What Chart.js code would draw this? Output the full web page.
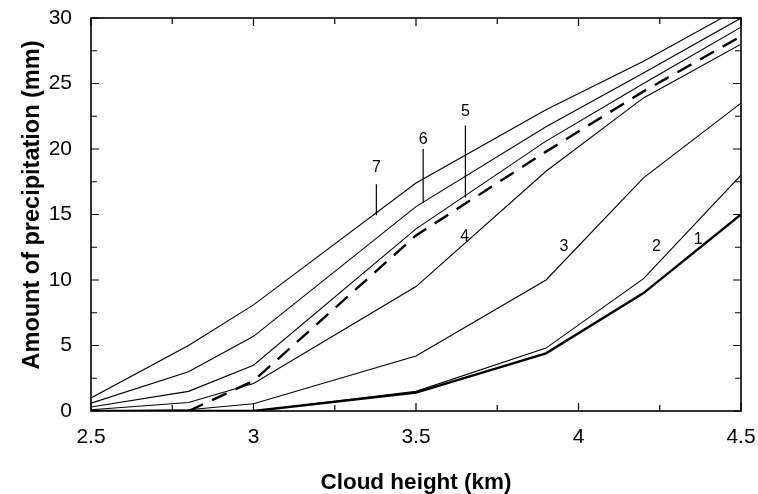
<!DOCTYPE html>
<html>
<head>
<meta charset="utf-8">
<script src="https://cdn.jsdelivr.net/npm/chart.js@4.4.1/dist/chart.umd.min.js"></script>
<style>
    html, body { margin: 0; padding: 0; background: #fff; }
</style>
</head>
<body>
<canvas id="precipChart" width="758" height="494"></canvas>
<script>
// Cloud heights (km) at which the curves were sampled
const heights = [2.5, 2.8, 3.0, 3.5, 3.9, 4.2, 4.5];

// Amount of precipitation (mm), curves 1-7 plus the dashed one
const curve1 = [0, 0, 0, 1.4, 4.4, 9.0, 15.0];
const curve2 = [0, 0, 0, 1.5, 4.8, 10.1, 18.0];
const curve3 = [0, 0.1, 0.55, 4.2, 10.0, 17.8, 23.5];
const curve4 = [0.1, 0.65, 2.1, 9.5, 18.3, 23.9, 28.0];
const curve5 = [0.3, 1.5, 3.5, 13.9, 20.6, 25.0, 29.3];
const curve6 = [0.6, 3.0, 5.7, 15.6, 21.7, 25.8, 30.0];
const curve7 = [1.0, 5.0, 8.1, 17.4, 23.0, 26.7, 30.8];
const dashedCurve = [null, 0, 2.3, 13.4, 19.8, 24.4, 28.6];

// Axis ticks
const xMajorTicks = [2.5, 3, 3.5, 4, 4.5];
const xMinorTicks = [2.75, 3.25, 3.75, 4.25];
const yMajorTicks = [0, 5, 10, 15, 20, 25, 30];
const yMinorTicks = [2.5, 7.5, 12.5, 17.5, 22.5, 27.5];

// Curve numbers and their leader lines, in data units
const curveNames = ['7', '6', '5', '4', '3', '2', '1'];
const nameX = [3.378, 3.522, 3.652, 3.65, 3.955, 4.24, 4.368];
const nameY = [18.55, 20.7, 22.85, 13.3, 12.55, 12.55, 13.05];
const leaderTop = [17.3, 20.0, 21.8, null, null, null, null];
const leaderBottom = [14.95, 15.9, 16.3, null, null, null, null];

const FONT = '"Liberation Sans", Arial, Helvetica, sans-serif';
const Y_TITLE = 'Amount of precipitation (mm)';

function toPoints(values) {
    return heights.map((h, i) => ({ x: h, y: values[i] }));
}

function thinLine(values) {
    return {
        data: toPoints(values),
        borderColor: '#000',
        borderWidth: 1.1,
        pointRadius: 0,
        tension: 0,
        fill: false
    };
}

// Frame with inward ticks, the curve numbers and the y title
const frameAndNames = {
    id: 'frameAndNames',
    afterDatasetsDraw(chart) {
        const { ctx, chartArea: a, scales: { x, y } } = chart;
        ctx.save();
        ctx.strokeStyle = '#000';

        ctx.lineWidth = 1.2;
        ctx.beginPath();
        const xTick = (v, len) => {
            const px = x.getPixelForValue(v);
            ctx.moveTo(px, a.bottom); ctx.lineTo(px, a.bottom - len);
            ctx.moveTo(px, a.top); ctx.lineTo(px, a.top + len);
        };
        const yTick = (v, len) => {
            const py = y.getPixelForValue(v);
            ctx.moveTo(a.left, py); ctx.lineTo(a.left + len, py);
            ctx.moveTo(a.right, py); ctx.lineTo(a.right - len, py);
        };
        xMajorTicks.forEach(v => xTick(v, 8));
        xMinorTicks.forEach(v => xTick(v, 6));
        yMajorTicks.forEach(v => yTick(v, 8));
        yMinorTicks.forEach(v => yTick(v, 6));
        ctx.stroke();

        ctx.lineWidth = 1.6;
        ctx.strokeRect(a.left, a.top, a.right - a.left, a.bottom - a.top);

        // curve numbers
        ctx.fillStyle = '#000';
        ctx.font = '16px ' + FONT;
        ctx.textAlign = 'center';
        ctx.textBaseline = 'middle';
        ctx.lineWidth = 1.2;
        curveNames.forEach((name, i) => {
            const px = x.getPixelForValue(nameX[i]);
            ctx.fillText(name, px, y.getPixelForValue(nameY[i]));
            if (leaderTop[i] !== null) {
                ctx.beginPath();
                ctx.moveTo(px, y.getPixelForValue(leaderTop[i]));
                ctx.lineTo(px, y.getPixelForValue(leaderBottom[i]));
                ctx.stroke();
            }
        });

        // y title sits a bit above the middle of the plot in the original
        ctx.font = 'bold 23.5px ' + FONT;
        ctx.translate(33, 205);
        ctx.rotate(-Math.PI / 2);
        ctx.fillText(Y_TITLE, 0, 0);
        ctx.restore();
    }
};

const precipCtx = document.getElementById('precipChart').getContext('2d');
const precipChart = new Chart(precipCtx, {
    type: 'line',
    data: {
        datasets: [
            thinLine(curve7),
            thinLine(curve6),
            thinLine(curve5),
            thinLine(curve4),
            thinLine(curve3),
            thinLine(curve2),
            {
                data: toPoints(curve1),
                borderColor: '#000',
                borderWidth: 2.4,
                pointRadius: 0,
                tension: 0,
                fill: false
            },
            {
                data: toPoints(dashedCurve),
                borderColor: '#000',
                borderWidth: 2.4,
                borderDash: [16, 10],
                pointRadius: 0,
                tension: 0,
                fill: false,
                spanGaps: false
            }
        ]
    },
    options: {
        responsive: false,
        animation: false,
        layout: { padding: { top: 18, right: 17, left: 0, bottom: 0 } },
        plugins: {
            legend: { display: false },
            tooltip: { enabled: false }
        },
        scales: {
            x: {
                type: 'linear',
                min: 2.5,
                max: 4.5,
                grid: { display: false, drawTicks: false },
                border: { display: false },
                ticks: {
                    stepSize: 0.5,
                    padding: 14,
                    color: '#000',
                    font: { family: FONT, size: 21 },
                    callback: v => String(v)
                },
                title: {
                    display: true,
                    text: 'Cloud height (km)',
                    color: '#000',
                    font: { family: FONT, size: 22.5, weight: 'bold', lineHeight: 1 },
                    padding: { top: 0, bottom: 0 }
                },
                afterFit(scale) {
                    scale.height = 83;
                    scale.paddingLeft = 0;
                    scale.paddingRight = 0;
                }
            },
            y: {
                min: 0,
                max: 30,
                grid: { display: false, drawTicks: false },
                border: { display: false },
                ticks: {
                    stepSize: 5,
                    padding: 19,
                    color: '#000',
                    font: { family: FONT, size: 21 }
                },
                afterFit(scale) {
                    scale.width = 91;
                    scale.paddingTop = 0;
                    scale.paddingBottom = 0;
                }
            }
        }
    },
    plugins: [frameAndNames]
});
</script>
</body>
</html>
